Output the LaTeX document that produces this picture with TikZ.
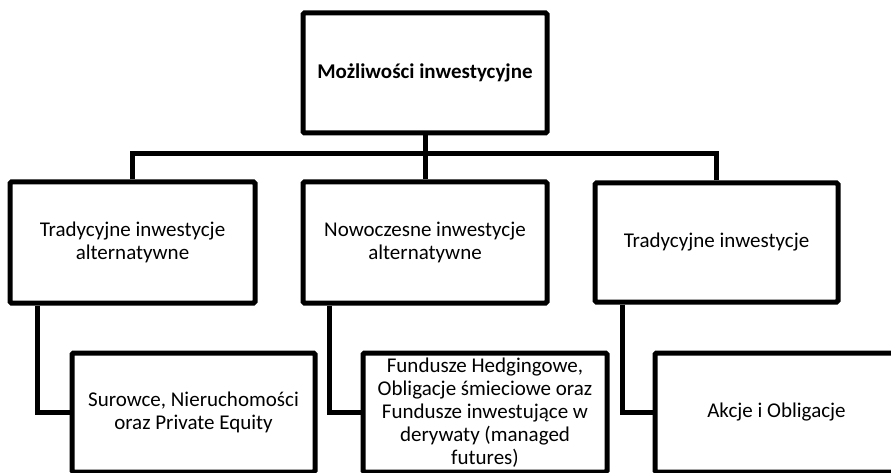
\documentclass[tikz,border=0pt]{standalone}
\usepackage{fontspec}
\setmainfont{Carlito}
\begin{document}
\begin{tikzpicture}[x=1pt,y=-1pt,
  boxst/.style={draw=black, line width=5pt, rounded corners=1.5pt, fill=white, inner sep=0pt,
    align=center, font=\fontsize{21}{23}\selectfont},
  conn/.style={draw=black, line width=5pt}]
\useasboundingbox (0,0) rectangle (891,473);
\clip (0,0) rectangle (891,473);
\fill[white] (0,0) rectangle (891,473);
% boxes
\node[boxst, minimum width=244pt, minimum height=120pt, font=\fontsize{21}{23}\selectfont\bfseries] (top) at (425,73) {Możliwości inwestycyjne};
\node[boxst, minimum width=245pt, minimum height=121pt] (l1) at (132.5,242.5) {Tradycyjne inwestycje\\alternatywne};
\node[boxst, minimum width=244pt, minimum height=121pt] (m1) at (425,242.5) {Nowoczesne inwestycje\\alternatywne};
\node[boxst, minimum width=243pt, minimum height=119pt] (r1) at (716.5,242.5) {Tradycyjne inwestycje};
\node[boxst, minimum width=243pt, minimum height=119pt] (l2) at (193.5,412.5) {Surowce, Nieruchomości\\oraz Private Equity};
\node[boxst, minimum width=244pt, minimum height=119pt] (m2) at (485,412.5) {Fundusze Hedgingowe,\\Obligacje śmieciowe oraz\\Fundusze inwestujące w\\derywaty (managed\\futures)};
\node[boxst, minimum width=243pt, minimum height=119pt] (r2) at (776.5,412.5) {Akcje i Obligacje};
% connectors
\coordinate (bar) at (425,154);
\draw[conn] (top.south) -- (bar);
\draw[conn] (l1.north) |- (bar);
\draw[conn] (r1.north) |- (bar);
\draw[conn] (m1.north) -- (bar);
\draw[conn] ([xshift=-95.5pt]l1.south) |- (l2.west);
\draw[conn] ([xshift=-96pt]m1.south) |- (m2.west);
\draw[conn] ([xshift=-94.5pt]r1.south) |- (r2.west);
\end{tikzpicture}
\end{document}
